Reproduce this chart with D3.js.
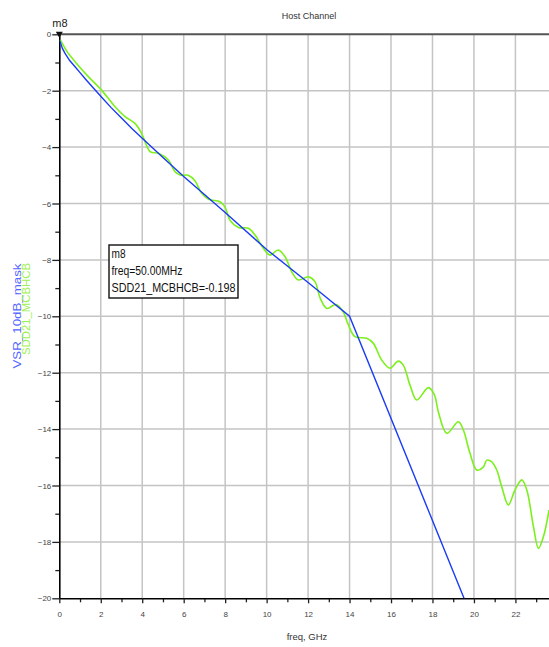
<!DOCTYPE html>
<html>
<head>
<meta charset="utf-8">
<script src="https://cdn.jsdelivr.net/npm/d3@7"></script>
<style>
  body { margin: 0; background: #fff; }
  svg { font-family: "Liberation Sans", Arial, sans-serif; }
</style>
</head>
<body>
<svg id="chart" width="549" height="647"></svg>
<script>
// ---- data
var maskFreq = [0.02, 0.15, 0.27, 0.5, 0.76, 1.0, 1.3, 1.6, 2, 2.5, 3, 3.5, 4, 5, 6, 8, 10, 12, 14, 19.55]
var maskDb = [-0.22, -0.5, -0.67, -0.93, -1.15, -1.36, -1.62, -1.87, -2.2, -2.6, -2.97, -3.34, -3.69, -4.37, -5.04, -6.32, -7.63, -8.8, -10, -20.05]

var sddFreq = [0.05, 0.4, 0.76, 1.4, 2.04, 2.69, 3.17, 3.65, 3.97, 4.38, 4.78, 5.26, 5.58, 5.83, 6.22, 6.55, 6.85,
  7.2, 7.75, 8.0, 8.23, 8.64, 9.12, 9.44, 9.84, 10.16, 10.56, 10.89, 11.21, 11.53, 12.01, 12.33, 12.58, 12.9,
  13.35, 13.7, 13.94, 14.26, 14.83, 15.15, 15.55, 15.95, 16.35, 16.59, 16.92, 17.24, 17.8, 18.08, 18.3, 18.69,
  19.25, 19.49, 19.81, 20.14, 20.45, 20.62, 20.86, 21.1, 21.34, 21.66, 21.98, 22.31, 22.55, 22.87, 23.11, 23.35, 23.62]
var sddDb = [-0.198, -0.64, -0.97, -1.5, -1.98, -2.57, -2.92, -3.16, -3.51, -4.16, -4.22, -4.46, -4.87, -4.99, -5.0, -5.2, -5.62,
  -5.85, -5.94, -6.14, -6.59, -6.85, -6.88, -7.12, -7.59, -7.83, -7.65, -7.89, -8.42, -8.71, -8.6, -8.77, -9.35, -9.72,
  -9.58, -9.85, -10.3, -10.72, -10.78, -10.96, -11.55, -11.84, -11.59, -11.73, -12.45, -12.97, -12.53, -12.76, -13.44, -14.15,
  -13.74, -14.03, -14.86, -15.45, -15.35, -15.1, -15.16, -15.45, -16.04, -16.69, -16.16, -15.8, -16.16, -17.46, -18.23, -17.82, -16.87]

var xMajor = [0, 2, 4, 6, 8, 10, 12, 14, 16, 18, 20, 22]
var xMinor = [1, 3, 5, 7, 9, 11, 13, 15, 17, 19, 21, 23]
var yMajor = [0, -2, -4, -6, -8, -10, -12, -14, -16, -18, -20]
var yMinor = [-1, -3, -5, -7, -9, -11, -13, -15, -17, -19]

var markerLines = ["m8", "freq=50.00MHz", "SDD21_MCBHCB=-0.198"]
var markerWidths = [14, 71, 124]

// ---- layout
var svg = d3.select("#chart"),
  margin = { top: 34.3, right: 0, bottom: 48.7, left: 59.3 },
  W = 549, H = 647

var x = d3.scaleLinear().domain([0, 23.62]).range([margin.left, W - margin.right])
var y = d3.scaleLinear().domain([0, -20]).range([margin.top, H - margin.bottom])

var blue = "#1a3cf5", green = "#7cf01c"

svg.append("clipPath").attr("id", "plotclip").append("rect")
  .attr("x", x(0)).attr("y", y(0) - 2).attr("width", x(23.62) - x(0)).attr("height", y(-20) - y(0) + 2)

// grid
svg.append("g").selectAll("line").data(xMajor.slice(1)).join("line")
  .attr("x1", d => x(d)).attr("x2", d => x(d)).attr("y1", y(0)).attr("y2", y(-20))
  .attr("stroke", "#c4c4c4").attr("stroke-width", 1.5)
svg.append("g").selectAll("line").data(yMajor.slice(1, -1)).join("line")
  .attr("y1", d => y(d)).attr("y2", d => y(d)).attr("x1", x(0)).attr("x2", W)
  .attr("stroke", "#c4c4c4").attr("stroke-width", 1.5)

// top border
svg.append("line").attr("x1", x(0)).attr("x2", W).attr("y1", y(0)).attr("y2", y(0))
  .attr("stroke", "#555").attr("stroke-width", 2)

// axes
function styleAxis(g) {
  g.select(".domain").attr("stroke", "#000").attr("stroke-width", 1.6)
  g.selectAll(".tick line").attr("stroke", "#222").attr("stroke-width", 1.3)
  g.selectAll(".tick text").attr("fill", "#444").style("font-size", "8px")
}
svg.append("g").attr("transform", "translate(0," + y(-20) + ")")
  .call(d3.axisBottom(x).tickValues(xMinor).tickSize(4).tickFormat("").tickSizeOuter(0))
  .call(g => g.select(".domain").remove())
  .call(styleAxis)
svg.append("g").attr("transform", "translate(0," + y(-20) + ")")
  .call(d3.axisBottom(x).tickValues(xMajor).tickSize(5).tickPadding(8).tickSizeOuter(0))
  .call(styleAxis)
svg.append("g").attr("transform", "translate(" + x(0) + ",0)")
  .call(d3.axisLeft(y).tickValues(yMinor).tickSize(4).tickFormat("").tickSizeOuter(0))
  .call(g => g.select(".domain").remove())
  .call(styleAxis)
svg.append("g").attr("transform", "translate(" + x(0) + ",0)")
  .call(d3.axisLeft(y).tickValues(yMajor).tickSize(7).tickPadding(1).tickSizeOuter(0))
  .call(styleAxis)

// curves
var plot = svg.append("g").attr("clip-path", "url(#plotclip)")
plot.append("path").datum(sddFreq.map((f, i) => [f, sddDb[i]]))
  .attr("d", d3.line().x(d => x(d[0])).y(d => y(d[1])).curve(d3.curveCatmullRom.alpha(0.5)))
  .attr("fill", "none").attr("stroke", green).attr("stroke-width", 1.6)
plot.append("path").datum(maskFreq.map((f, i) => [f, maskDb[i]]))
  .attr("d", d3.line().x(d => x(d[0])).y(d => y(d[1])))
  .attr("fill", "none").attr("stroke", blue).attr("stroke-width", 1.4)

// marker m8
var mx = x(0), my = y(0)
svg.append("path").attr("d", "M" + (mx - 3.5) + "," + (my - 2.5) + "L" + (mx + 3.5) + "," + (my - 2.5) + "L" + mx + "," + (my + 3.5) + "Z")
  .attr("fill", "#111")
svg.append("text").attr("x", mx - 7).attr("y", 27).text("m8").style("font-size", "11px").attr("fill", "#222")

// marker readout box
var box = svg.append("g")
box.append("rect").attr("x", 109).attr("y", 245).attr("width", 129).attr("height", 53)
  .attr("fill", "#fff").attr("stroke", "#111").attr("stroke-width", 1.4)
box.selectAll("text").data(markerLines).join("text")
  .attr("x", 111.5).attr("y", (d, i) => 258 + i * 17).text(d => d)
  .attr("textLength", (d, i) => markerWidths[i]).attr("lengthAdjust", "spacingAndGlyphs")
  .style("font-size", "12px").attr("fill", "#111")

// titles
svg.append("text").attr("x", 309).attr("y", 19).attr("text-anchor", "middle")
  .style("font-size", "9px").attr("fill", "#333").text("Host Channel")
svg.append("text").attr("x", 307).attr("y", 640).attr("text-anchor", "middle")
  .style("font-size", "9.5px").attr("fill", "#333").text("freq, GHz")

// rotated series labels
svg.append("text").attr("transform", "translate(21,316) rotate(-90)").attr("text-anchor", "middle")
  .style("font-size", "11px").attr("fill", "#5566ff").attr("textLength", 105).attr("lengthAdjust", "spacingAndGlyphs")
  .text("VSR_10dB_mask")
svg.append("text").attr("transform", "translate(30,309) rotate(-90)").attr("text-anchor", "middle")
  .style("font-size", "11px").attr("fill", "#9cf050").attr("textLength", 92).attr("lengthAdjust", "spacingAndGlyphs")
  .text("SDD21_MCBHCB")
</script>
</body>
</html>
